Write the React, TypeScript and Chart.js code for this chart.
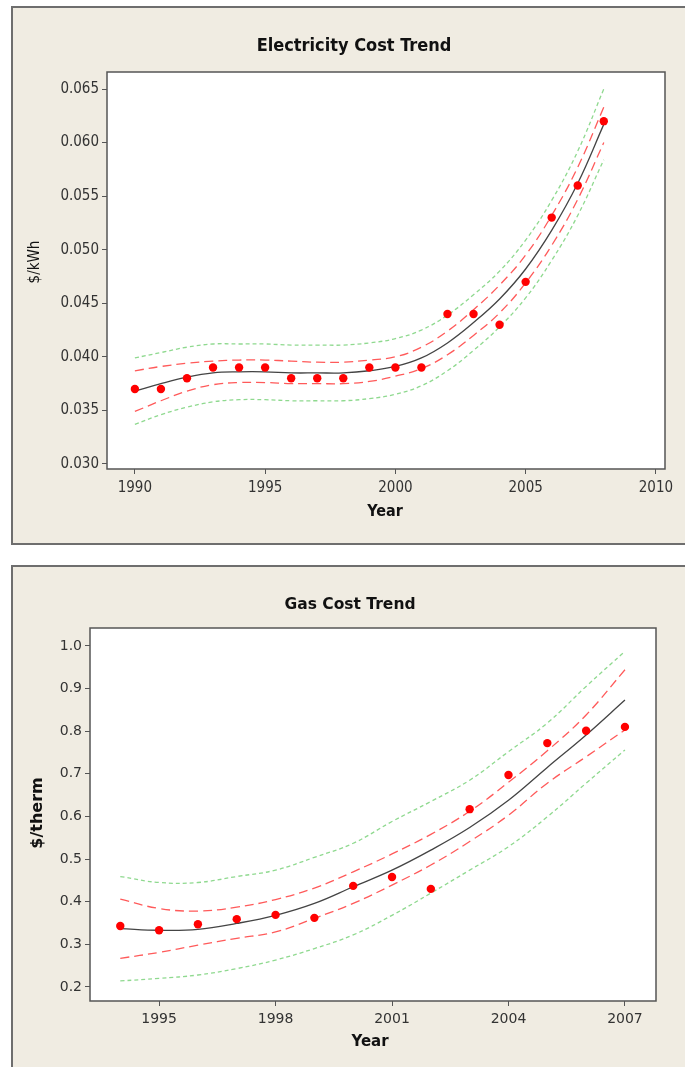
import React, { useEffect, useRef } from "react";
import { Chart, registerables } from "chart.js";

Chart.register(...registerables);

// ---------- Electricity data ----------
const elecYears = [1990, 1991, 1992, 1993, 1994, 1995, 1996, 1997, 1998, 1999, 2000, 2001, 2002, 2003, 2004, 2005, 2006, 2007, 2008];
const elecCost = [0.037, 0.037, 0.038, 0.039, 0.039, 0.039, 0.038, 0.038, 0.038, 0.039, 0.039, 0.039, 0.044, 0.044, 0.043, 0.047, 0.053, 0.056, 0.062];
const elecFit = [0.0368, 0.0375, 0.0381, 0.0385, 0.0386, 0.0386, 0.0385, 0.0385, 0.0385, 0.0387, 0.0391, 0.0399, 0.0413, 0.0432, 0.0454, 0.0482, 0.0518, 0.0562, 0.0617];
const elecCiLow = [0.0349, 0.0359, 0.0368, 0.0374, 0.0376, 0.0376, 0.0375, 0.0375, 0.0375, 0.0377, 0.0382, 0.0389, 0.0402, 0.0420, 0.0441, 0.0469, 0.0504, 0.0547, 0.0600];
const elecCiHigh = [0.0387, 0.0391, 0.0394, 0.0396, 0.0397, 0.0397, 0.0396, 0.0395, 0.0395, 0.0397, 0.0400, 0.0409, 0.0424, 0.0444, 0.0467, 0.0495, 0.0532, 0.0577, 0.0633];
const elecPiLow = [0.0337, 0.0346, 0.0353, 0.0358, 0.0360, 0.0360, 0.0359, 0.0359, 0.0359, 0.0361, 0.0365, 0.0373, 0.0387, 0.0406, 0.0428, 0.0455, 0.0490, 0.0532, 0.0584];
const elecPiHigh = [0.0399, 0.0404, 0.0409, 0.0412, 0.0412, 0.0412, 0.0411, 0.0411, 0.0411, 0.0413, 0.0417, 0.0425, 0.0439, 0.0458, 0.0480, 0.0509, 0.0546, 0.0592, 0.0650];
const elecXTicks = [1990, 1995, 2000, 2005, 2010];
const elecYTicks = [0.03, 0.035, 0.04, 0.045, 0.05, 0.055, 0.06, 0.065];

// ---------- Gas data ----------
const gasYears = [1994, 1995, 1996, 1997, 1998, 1999, 2000, 2001, 2002, 2003, 2004, 2005, 2006, 2007];
const gasCost = [0.343, 0.333, 0.347, 0.359, 0.369, 0.362, 0.437, 0.458, 0.430, 0.617, 0.697, 0.772, 0.801, 0.810];
const gasFit = [0.337, 0.333, 0.335, 0.349, 0.368, 0.396, 0.435, 0.474, 0.521, 0.574, 0.638, 0.715, 0.791, 0.873];
const gasCiLow = [0.267, 0.281, 0.298, 0.314, 0.329, 0.361, 0.396, 0.439, 0.486, 0.541, 0.603, 0.678, 0.740, 0.803];
const gasCiHigh = [0.406, 0.384, 0.378, 0.387, 0.405, 0.432, 0.470, 0.512, 0.558, 0.612, 0.680, 0.754, 0.838, 0.944];
const gasPiLow = [0.214, 0.220, 0.228, 0.243, 0.263, 0.290, 0.322, 0.368, 0.420, 0.474, 0.529, 0.599, 0.678, 0.756];
const gasPiHigh = [0.459, 0.445, 0.445, 0.459, 0.474, 0.504, 0.537, 0.588, 0.635, 0.685, 0.752, 0.819, 0.905, 0.987];
const gasXTicks = [1995, 1998, 2001, 2004, 2007];
const gasYTicks = [0.2, 0.3, 0.4, 0.5, 0.6, 0.7, 0.8, 0.9, 1.0];

const AXIS_COLOR = "#555555";
const PANEL_BG = "#F0ECE2";

type Cfg = {
  years: number[];
  cost: number[];
  fit: number[];
  ciLow: number[];
  ciHigh: number[];
  piLow: number[];
  piHigh: number[];
  xTicks: number[];
  yTicks: number[];
  xMin: number;
  xMax: number;
  yMin: number;
  yMax: number;
  decimals: number;
  title: string;
  yTitle: string;
  width: number;
  height: number;
  area: { left: number; top: number; right: number; bottom: number };
  titlePos: [number, number];
  xTitlePos: [number, number];
  yTitlePos: [number, number];
  tickFont: string;
  titleFont: string;
  xTitleFont: string;
  yTitleFont: string;
  tickSize: number;
  xPad: number;
  yPad: number;
};

function pairs(xs: number[], ys: number[]) {
  return xs.map((x, i) => ({ x, y: ys[i] }));
}

function TrendChart({ cfg, style }: { cfg: Cfg; style: React.CSSProperties }) {
  const ref = useRef<HTMLCanvasElement | null>(null);
  useEffect(() => {
    if (!ref.current) return;
    const a = cfg.area;
    const framePlugin = {
      id: "frame",
      beforeDraw(chart: any) {
        const { ctx, chartArea } = chart;
        ctx.save();
        ctx.fillStyle = "#ffffff";
        ctx.fillRect(chartArea.left, chartArea.top, chartArea.right - chartArea.left, chartArea.bottom - chartArea.top);
        ctx.restore();
      },
      afterDraw(chart: any) {
        const { ctx, chartArea } = chart;
        ctx.save();
        ctx.strokeStyle = AXIS_COLOR;
        ctx.lineWidth = 1.5;
        ctx.strokeRect(chartArea.left, chartArea.top, chartArea.right - chartArea.left, chartArea.bottom - chartArea.top);
        ctx.fillStyle = "#111111";
        ctx.textAlign = "center";
        ctx.textBaseline = "middle";
        ctx.font = cfg.titleFont;
        ctx.fillText(cfg.title, cfg.titlePos[0], cfg.titlePos[1]);
        ctx.font = cfg.xTitleFont;
        ctx.fillText("Year", cfg.xTitlePos[0], cfg.xTitlePos[1]);
        ctx.translate(cfg.yTitlePos[0], cfg.yTitlePos[1]);
        ctx.rotate(-Math.PI / 2);
        ctx.font = cfg.yTitleFont;
        ctx.fillText(cfg.yTitle, 0, 0);
        ctx.restore();
      },
    };
    const chart = new Chart(ref.current, {
      type: "line",
      data: {
        datasets: [
          {
            label: "Cost",
            data: pairs(cfg.years, cfg.cost),
            showLine: false,
            pointRadius: 4.2,
            pointBackgroundColor: "#ff0000",
            pointBorderColor: "#ff0000",
            pointBorderWidth: 0,
            order: 0,
          },
          {
            label: "Fit",
            data: pairs(cfg.years, cfg.fit),
            borderColor: "#444444",
            borderWidth: 1.3,
            pointRadius: 0,
            tension: 0.4,
            order: 1,
          },
          {
            label: "CI low",
            data: pairs(cfg.years, cfg.ciLow),
            borderColor: "#ff5a5a",
            borderWidth: 1.3,
            borderDash: [9, 5],
            pointRadius: 0,
            tension: 0.4,
            order: 2,
          },
          {
            label: "CI high",
            data: pairs(cfg.years, cfg.ciHigh),
            borderColor: "#ff5a5a",
            borderWidth: 1.3,
            borderDash: [9, 5],
            pointRadius: 0,
            tension: 0.4,
            order: 2,
          },
          {
            label: "PI low",
            data: pairs(cfg.years, cfg.piLow),
            borderColor: "#8fd98f",
            borderWidth: 1.3,
            borderDash: [4, 3],
            pointRadius: 0,
            tension: 0.4,
            order: 3,
          },
          {
            label: "PI high",
            data: pairs(cfg.years, cfg.piHigh),
            borderColor: "#8fd98f",
            borderWidth: 1.3,
            borderDash: [4, 3],
            pointRadius: 0,
            tension: 0.4,
            order: 3,
          },
        ],
      },
      options: {
        animation: false,
        responsive: false,
        devicePixelRatio: 1,
        layout: { padding: { left: 0, top: a.top, right: cfg.width - a.right, bottom: 0 } },
        plugins: { legend: { display: false }, tooltip: { enabled: false }, title: { display: false } },
        scales: {
          x: {
            type: "linear",
            min: cfg.xMin,
            max: cfg.xMax,
            afterFit(scale: any) {
              scale.height = cfg.height - a.bottom;
            },
            afterBuildTicks(scale: any) {
              scale.ticks = cfg.xTicks.map((v) => ({ value: v }));
            },
            border: { display: false },
            grid: { display: true, drawOnChartArea: false, drawTicks: true, tickLength: 5, color: AXIS_COLOR, lineWidth: 1 },
            ticks: {
              autoSkip: false,
              maxRotation: 0,
              padding: cfg.xPad,
              color: "#333333",
              font: { family: cfg.tickFont, size: cfg.tickSize },
              callback: (v: any) => String(v),
            },
          },
          y: {
            type: "linear",
            min: cfg.yMin,
            max: cfg.yMax,
            afterFit(scale: any) {
              scale.width = a.left;
            },
            afterBuildTicks(scale: any) {
              scale.ticks = cfg.yTicks.map((v) => ({ value: v }));
            },
            border: { display: false },
            grid: { display: true, drawOnChartArea: false, drawTicks: true, tickLength: 5, color: AXIS_COLOR, lineWidth: 1 },
            ticks: {
              autoSkip: false,
              padding: cfg.yPad,
              color: "#333333",
              font: { family: cfg.tickFont, size: cfg.tickSize },
              callback: (v: any) => Number(v).toFixed(cfg.decimals),
            },
          },
        },
      },
      plugins: [framePlugin],
    } as any);
    return () => chart.destroy();
  }, [cfg]);
  return <canvas ref={ref} width={cfg.width} height={cfg.height} style={{ position: "absolute", ...style, width: cfg.width, height: cfg.height }} />;
}

const condensed = '"DejaVu Sans Condensed", "DejaVu Sans", sans-serif';
const regular = '"DejaVu Sans", sans-serif';

const elecCfg: Cfg = {
  years: elecYears,
  cost: elecCost,
  fit: elecFit,
  ciLow: elecCiLow,
  ciHigh: elecCiHigh,
  piLow: elecPiLow,
  piHigh: elecPiHigh,
  xTicks: elecXTicks,
  yTicks: elecYTicks,
  xMin: 1988.93,
  xMax: 2010.35,
  yMin: 0.02953,
  yMax: 0.06659,
  decimals: 3,
  title: "Electricity Cost Trend",
  yTitle: "$/kWh",
  width: 685,
  height: 544,
  area: { left: 107, top: 72, right: 665, bottom: 469 },
  titlePos: [354, 46],
  xTitlePos: [385, 512],
  yTitlePos: [35, 262],
  tickFont: condensed,
  titleFont: `bold 18px ${condensed}`,
  xTitleFont: `bold 16px ${condensed}`,
  yTitleFont: `15px ${condensed}`,
  tickSize: 15,
  xPad: 5,
  yPad: 3,
};

const gasCfg: Cfg = {
  years: gasYears,
  cost: gasCost,
  fit: gasFit,
  ciLow: gasCiLow,
  ciHigh: gasCiHigh,
  piLow: gasPiLow,
  piHigh: gasPiHigh,
  xTicks: gasXTicks,
  yTicks: gasYTicks,
  xMin: 1993.22,
  xMax: 2007.8,
  yMin: 0.167,
  yMax: 1.042,
  decimals: 1,
  title: "Gas Cost Trend",
  yTitle: "$/therm",
  width: 685,
  height: 511,
  area: { left: 90, top: 72, right: 656, bottom: 445 },
  titlePos: [350, 49],
  xTitlePos: [370, 486],
  yTitlePos: [38, 257],
  tickFont: regular,
  titleFont: `bold 15.5px ${regular}`,
  xTitleFont: `bold 15px ${regular}`,
  yTitleFont: `bold 16px ${regular}`,
  tickSize: 14,
  xPad: 5,
  yPad: 3,
};

export default function App() {
  return (
    <div style={{ position: "fixed", left: 0, top: 0, width: 685, height: 1067, overflow: "hidden", background: "#ffffff" }}>
      <div
        style={{
          position: "absolute",
          left: 11,
          top: 6,
          width: 700,
          height: 539,
          boxSizing: "border-box",
          border: "2px solid #6e6e6e",
          background: PANEL_BG,
        }}
      />
      <div
        style={{
          position: "absolute",
          left: 11,
          top: 565,
          width: 700,
          height: 600,
          boxSizing: "border-box",
          border: "2px solid #6e6e6e",
          background: PANEL_BG,
        }}
      />
      <TrendChart cfg={elecCfg} style={{ left: 0, top: 0 }} />
      <TrendChart cfg={gasCfg} style={{ left: 0, top: 556 }} />
    </div>
  );
}
